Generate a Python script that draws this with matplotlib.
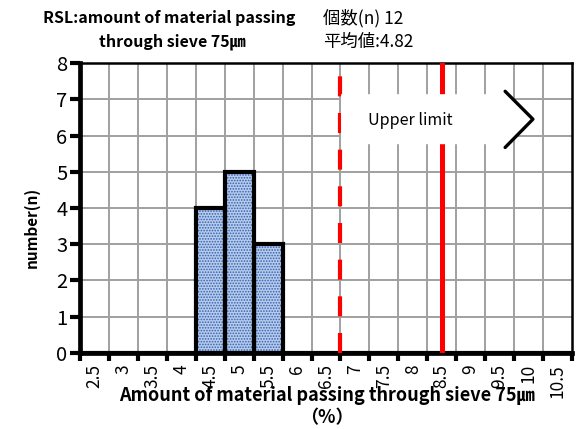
import numpy as np
import matplotlib
matplotlib.use("Agg")
import matplotlib.pyplot as plt
from matplotlib.patches import Polygon

plt.rcParams['font.family'] = ['Noto Sans CJK JP', 'DejaVu Sans']
plt.rcParams['hatch.linewidth'] = 0.8

# data
categories = ['2.5', '3', '3.5', '4', '4.5', '5', '5.5', '6', '6.5', '7',
              '7.5', '8', '8.5', '9', '9.5', '10', '10.5']
counts = [0, 0, 0, 0, 4, 5, 3, 0, 0, 0, 0, 0, 0, 0, 0, 0, 0]
n_count = 12
mean_value = 4.82
dashed_value = 6.75
upper_limit = 8.5
x_start, x_step = 2.5, 0.5


def to_idx(v):
    return (v - x_start) / x_step


fig = plt.figure(figsize=(5.83, 4.29), dpi=100)
ax = fig.add_axes([0.1372, 0.1772, 0.9811 - 0.1372, 0.8531 - 0.1772])

x = np.arange(len(categories))
ax.set_xlim(-0.5, len(categories) - 0.5)
ax.set_ylim(0, 8)

# grid
for b in np.arange(0.5, len(categories) - 0.5, 1):
    ax.axvline(b, color='#a0a0a0', lw=1.4, zorder=0)
for yv in range(1, 8):
    ax.axhline(yv, color='#a0a0a0', lw=1.4, zorder=0)

# bars: hatch layer then outline
ax.bar(x, counts, width=1.0, facecolor='#b9cbe9', edgecolor='#2f62b5',
       hatch='......', linewidth=0, zorder=2)
ax.bar(x, counts, width=1.0, facecolor='none', edgecolor='black',
       linewidth=3, zorder=3)

# reference lines
ax.axvline(to_idx(dashed_value), color='#ff0000', lw=3,
           linestyle=(0, (4.8, 4.0)), zorder=4)
ax.axvline(to_idx(upper_limit), color='#ff0000', lw=3.6, zorder=4)

# callout
body = Polygon([(8.52, 5.76), (14.19, 5.76), (14.19, 5.67), (15.15, 6.45),
                (14.19, 7.22), (14.19, 7.14), (8.52, 7.14)],
               closed=True, facecolor='white', edgecolor='none', zorder=5)
ax.add_patch(body)
ax.plot([14.19, 15.15, 14.19], [7.22, 6.45, 5.67], color='black', lw=2.4,
        solid_capstyle='round', zorder=6)
ax.text(10.9, 6.42, 'Upper limit', ha='center', va='center', fontsize=11.5,
        zorder=7)

# axes styling
ax.set_xticks(np.arange(-0.5, len(categories), 1))
ax.set_xticklabels([])
ax.set_xticks(x, minor=True)
ax.set_xticklabels(categories, minor=True, rotation=90, fontsize=12.5)
ax.tick_params(axis='x', which='major', direction='out', length=6, width=3)
ax.tick_params(axis='x', which='minor', length=0, pad=8)
ax.set_yticks(range(0, 9))
ax.tick_params(axis='y', direction='out', length=7, width=3, labelsize=14.5,
               pad=2)
for s in ['left', 'bottom']:
    ax.spines[s].set_linewidth(3.4)
for s in ['top', 'right']:
    ax.spines[s].set_linewidth(1.8)

# texts
fig.text(0.29, 0.958, 'RSL:amount of material passing', ha='center',
         va='center', fontsize=11.5, fontweight='bold')
fig.text(0.295, 0.902, 'through sieve 75㎛', ha='center', va='center',
         fontsize=11.5, fontweight='bold')
fig.text(0.554, 0.958, f'個数(n) {n_count}', ha='left', va='center',
         fontsize=12.5)
fig.text(0.554, 0.902, f'平均値:{mean_value}', ha='left', va='center',
         fontsize=12.5)
fig.text(0.055, 0.471, 'number(n)', rotation=90, ha='center', va='center',
         fontsize=11, fontweight='bold')
fig.text(0.561, 0.079, 'Amount of material passing through sieve 75㎛',
         ha='center', va='center', fontsize=13, fontweight='bold')
fig.text(0.561, 0.026, '（%）', ha='center', va='center', fontsize=13,
         fontweight='bold')

fig.savefig('out.png', dpi=100)
